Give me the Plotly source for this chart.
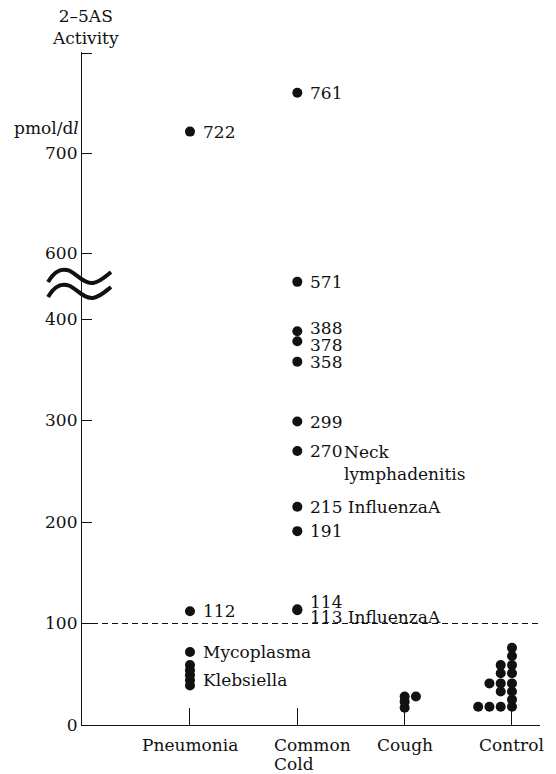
import plotly.graph_objects as go

# ---------------- data ----------------
categories = ["Pneumonia", "Common Cold", "Cough", "Control"]
category_label_lines = [["Pneumonia"], ["Common", "Cold"], ["Cough"], ["Control"]]

pneumonia_values = [722, 112, 72, 59, 54, 49, 44, 39]
common_cold_values = [761, 571, 388, 378, 358, 299, 270, 215, 191, 114, 113]
cough_values = [17, 23, 28, 28]
control_values = [18, 18, 18, 18, 25, 33, 33, 41, 41, 41, 51, 51, 59, 59, 68, 76]

pneumonia_labels = [(722, "722"), (112, "112"), (72, "Mycoplasma"), (44, "Klebsiella")]
common_cold_labels = [(761, "761"), (571, "571"), (388, "388"), (378, "378"), (358, "358"),
                      (299, "299"), (270, "270"), (215, "215 InfluenzaA"), (191, "191"),
                      (114, "114"), (113, "113 InfluenzaA")]

lower_ticks = [0, 100, 200, 300, 400]
upper_ticks = [600, 700, 800]
upper_ticktext = ["600", "700", ""]
threshold = 100

# ---------------- geometry / style ----------------
W, H = 556, 774
L, R, T, B = 82, 16, 52, 49
PW, PH = W - L - R, H - T - B
BREAK_PX = 285
lower_top = (H - B - BREAK_PX) / PH
LOWER_RANGE = [0, (H - B - BREAK_PX) / 1.015]
UPPER_RANGE = [600 - (BREAK_PX - 253) / 0.995, 802]
FONT = "DejaVu Serif"
FS = 17
INK = "#111111"
STEP = 0.105
label_nudge = {"388": 3, "378": -4, "114": 7, "113 InfluenzaA": -7}


def px_x(px):
    return (px - L) / PW


def px_y(py):
    return (H - B - py) / PH


groups = [pneumonia_values, common_cold_values, cough_values, control_values]
directions = [-1, -1, 1, -1]

fig = go.Figure()
for ci, (vals, d) in enumerate(zip(groups, directions)):
    seen = {}
    xs_lo, ys_lo, xs_hi, ys_hi = [], [], [], []
    for v in vals:
        k = seen.get(v, 0)
        seen[v] = k + 1
        x = ci + d * k * STEP
        if v > LOWER_RANGE[1]:
            xs_hi.append(x); ys_hi.append(v)
        else:
            xs_lo.append(x); ys_lo.append(v)
    fig.add_trace(go.Scatter(x=xs_lo, y=ys_lo, mode="markers", yaxis="y", cliponaxis=False,
                             marker=dict(size=10, color=INK), showlegend=False,
                             name=categories[ci]))
    if xs_hi:
        fig.add_trace(go.Scatter(x=xs_hi, y=ys_hi, mode="markers", yaxis="y2",
                                 cliponaxis=False,
                                 marker=dict(size=10, color=INK), showlegend=False,
                                 name=categories[ci]))

annotations = []
for ci, labs in [(0, pneumonia_labels), (1, common_cold_labels)]:
    for v, txt in labs:
        annotations.append(dict(
            x=ci, y=v, yref="y2" if v > LOWER_RANGE[1] else "y", xref="x",
            text=txt, showarrow=False, xanchor="left", yanchor="middle",
            xshift=11, yshift=label_nudge.get(txt, 0),
            font=dict(family=FONT, size=FS, color=INK)))

annotations.append(dict(x=1, y=270, xref="x", yref="y", text="Neck<br>lymphadenitis",
                        showarrow=False, xanchor="left", yanchor="top", align="left",
                        xshift=45, yshift=11, font=dict(family=FONT, size=FS, color=INK)))

for ci, lines in enumerate(category_label_lines):
    multi = len(lines) > 1
    for li, txt in enumerate(lines):
        annotations.append(dict(x=ci, y=px_y(745 + 19 * li), xref="x", yref="paper",
                                text=txt, showarrow=False,
                                xanchor="left" if multi else "center", yanchor="middle",
                                xshift=-25 if multi else 0,
                                font=dict(family=FONT, size=FS, color=INK)))

annotations.append(dict(x=px_x(85), y=px_y(27), xref="paper", yref="paper",
                        text="2–5AS<br>Activity", showarrow=False, xanchor="center",
                        yanchor="middle", font=dict(family=FONT, size=FS, color=INK)))
annotations.append(dict(x=0, y=px_y(128), xref="paper", yref="paper",
                        text="pmol/d<i>l</i>", showarrow=False, xanchor="right",
                        yanchor="middle", xshift=-1, font=dict(family=FONT, size=FS, color=INK)))


def squiggle(dy):
    pts = [(48, 283), (55, 271), (62, 269), (70, 272), (78, 276), (84, 285), (93, 284),
           (100, 283), (106, 277), (111, 273)]
    c = [f"{px_x(a):.4f},{px_y(b + dy):.4f}" for a, b in pts]
    return f"M {c[0]} C {c[1]} {c[2]} {c[3]} C {c[4]} {c[5]} {c[6]} C {c[7]} {c[8]} {c[9]}"


shapes = [
    dict(type="line", xref="paper", x0=0, x1=1, yref="y", y0=threshold, y1=threshold,
         line=dict(color=INK, width=1, dash="6px,4px")),
    dict(type="path", xref="paper", yref="paper", path=squiggle(-1),
         line=dict(color=INK, width=4)),
    dict(type="path", xref="paper", yref="paper", path=squiggle(14),
         line=dict(color=INK, width=4)),
]

axis_font = dict(family=FONT, size=FS, color=INK)
fig.update_layout(
    width=W, height=H, margin=dict(l=L, r=R, t=T, b=B),
    paper_bgcolor="white", plot_bgcolor="white",
    xaxis=dict(range=[-1.006, 3.261], tickvals=[0, 1, 2, 3], showticklabels=False,
               ticks="inside", ticklen=17, tickwidth=1.2, tickcolor=INK,
               showline=True, linecolor=INK, linewidth=1.2, showgrid=False,
               zeroline=False, anchor="y"),
    yaxis=dict(domain=[0, lower_top], range=LOWER_RANGE, tickvals=lower_ticks,
               ticks="inside", ticklen=10, tickwidth=1.2, tickcolor=INK,
               showline=True, linecolor=INK, linewidth=1.2, showgrid=False,
               zeroline=False, tickfont=axis_font, anchor="x"),
    yaxis2=dict(domain=[lower_top, 1], range=UPPER_RANGE, tickvals=upper_ticks,
                ticktext=upper_ticktext, ticks="inside", ticklen=10, tickwidth=1.2,
                tickcolor=INK, showline=True, linecolor=INK, linewidth=1.2,
                showgrid=False, zeroline=False, tickfont=axis_font, anchor="x"),
    annotations=annotations, shapes=shapes,
)

fig.write_html(
    "out.html",
    config={"displayModeBar": False},
    post_script=("document.body.style.margin='0px';document.body.style.padding='0px';"
                 "document.documentElement.style.overflow='hidden';"),
)
